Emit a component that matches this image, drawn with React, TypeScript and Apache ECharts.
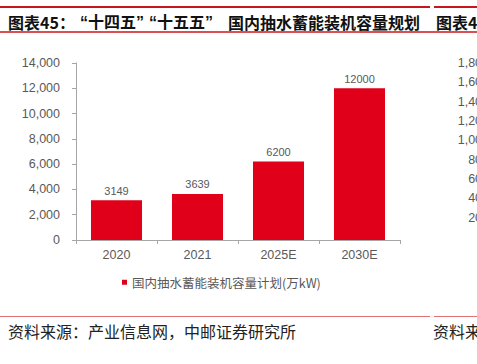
import React, { useEffect, useRef } from 'react';
import * as echarts from 'echarts';

const categories = ['2020', '2021', '2025E', '2030E'];
const capacity = [3149, 3639, 6200, 12000];
const seriesName = '国内抽水蓄能装机容量计划(万kW)';
const titleParts = ['图表45：', '“十四五”', '“十五五”', '国内抽水蓄能装机容量规划'];
const nextTitleText = '图表46：';
const sourceText = '资料来源：产业信息网，中邮证券研究所';
const nextSourceText = '资料来源：';
const leftAxisRange = { min: 0, max: 14000, interval: 2000 };
const rightAxisRange = { min: 0, max: 1800, interval: 200 };

const LATIN = '"Liberation Sans", Arial, sans-serif';
const CJK = '"Noto Sans CJK SC", "Liberation Sans", sans-serif';
const LATIN_FIRST = '"Liberation Sans", "Noto Sans CJK SC", sans-serif';
const GRAY = '#595959';
const AXIS = '#A6A6A6';
const RED = '#E10019';
const LINE_RED = '#C8161D';

const fmt = (v: number) => v.toLocaleString('en-US');

const titleX = [8, 80, 149, 228];
const titleFonts = [CJK, LATIN_FIRST, LATIN_FIRST, CJK];

export default function App() {
  const ref = useRef<HTMLDivElement>(null);
  useEffect(() => {
    if (!ref.current) return;
    const chart = echarts.init(ref.current, undefined, { renderer: 'svg' });
    const titleTexts = titleParts.map((t, i) => ({
      type: 'text',
      x: titleX[i],
      y: 22,
      style: { text: t, fontSize: 16, fontWeight: 'bold', fontFamily: titleFonts[i], fill: '#111', verticalAlign: 'middle' },
    }));
    chart.setOption({
      animation: false,
      backgroundColor: '#ffffff',
      grid: [
        { left: 76, top: 63, width: 324, height: 177 },
        { left: 505, top: 63, width: 100, height: 174 },
      ],
      xAxis: [
        {
          type: 'category',
          gridIndex: 0,
          data: categories,
          axisLine: { show: true, lineStyle: { color: AXIS, width: 1 } },
          axisTick: { show: true, length: 4, lineStyle: { color: AXIS } },
          axisLabel: { color: GRAY, fontSize: 12.5, margin: 8, fontFamily: LATIN },
        },
        { type: 'category', gridIndex: 1, show: false, data: ['a'] },
      ],
      yAxis: [
        {
          type: 'value',
          gridIndex: 0,
          ...leftAxisRange,
          axisLine: { show: true, lineStyle: { color: AXIS, width: 1 } },
          axisTick: { show: true, length: 4, lineStyle: { color: AXIS } },
          splitLine: { show: false },
          axisLabel: { color: GRAY, fontSize: 12.5, margin: 16, fontFamily: LATIN, formatter: fmt },
        },
        {
          type: 'value',
          gridIndex: 1,
          ...rightAxisRange,
          axisLine: { show: false },
          axisTick: { show: false },
          splitLine: { show: false },
          axisLabel: { color: GRAY, fontSize: 12.5, margin: 16, fontFamily: LATIN, formatter: fmt },
        },
      ],
      legend: {
        left: 117,
        top: 271,
        icon: 'rect',
        itemWidth: 5,
        itemHeight: 5,
        itemGap: 10,
        textStyle: { color: GRAY, fontSize: 12.5, fontFamily: CJK, padding: [0, 0, 0, 0] },
        data: [seriesName],
      },
      series: [
        {
          type: 'bar',
          name: seriesName,
          xAxisIndex: 0,
          yAxisIndex: 0,
          data: capacity,
          barWidth: '63%',
          itemStyle: { color: RED },
          label: { show: true, position: 'top', distance: 4, color: GRAY, fontSize: 11, fontFamily: LATIN },
        },
      ],
      graphic: [
        { type: 'line', shape: { x1: 0, y1: 7, x2: 430, y2: 7 }, style: { stroke: LINE_RED, lineWidth: 2 } },
        { type: 'line', shape: { x1: 434, y1: 7, x2: 477, y2: 7 }, style: { stroke: LINE_RED, lineWidth: 2 } },
        ...titleTexts,
        {
          type: 'text',
          x: 436,
          y: 22,
          style: { text: nextTitleText, fontSize: 16, fontWeight: 'bold', fontFamily: CJK, fill: '#111', verticalAlign: 'middle' },
        },
        { type: 'line', shape: { x1: 0, y1: 32, x2: 477, y2: 32 }, style: { stroke: LINE_RED, lineWidth: 1.3 } },
        { type: 'line', shape: { x1: 0, y1: 316.5, x2: 430, y2: 316.5 }, style: { stroke: '#E27272', lineWidth: 1.2 } },
        { type: 'line', shape: { x1: 434, y1: 316.5, x2: 477, y2: 316.5 }, style: { stroke: '#E27272', lineWidth: 1.2 } },
        {
          type: 'text',
          x: 8,
          y: 331,
          style: { text: sourceText, fontSize: 16, fontFamily: CJK, fill: '#222', verticalAlign: 'middle' },
        },
        {
          type: 'text',
          x: 433,
          y: 331,
          style: { text: nextSourceText, fontSize: 16, fontFamily: CJK, fill: '#222', verticalAlign: 'middle' },
        },
      ],
    });
    return () => chart.dispose();
  }, []);
  return <div ref={ref} style={{ position: 'absolute', left: 0, top: 0, width: 477, height: 364, overflow: 'hidden' }} />;
}
